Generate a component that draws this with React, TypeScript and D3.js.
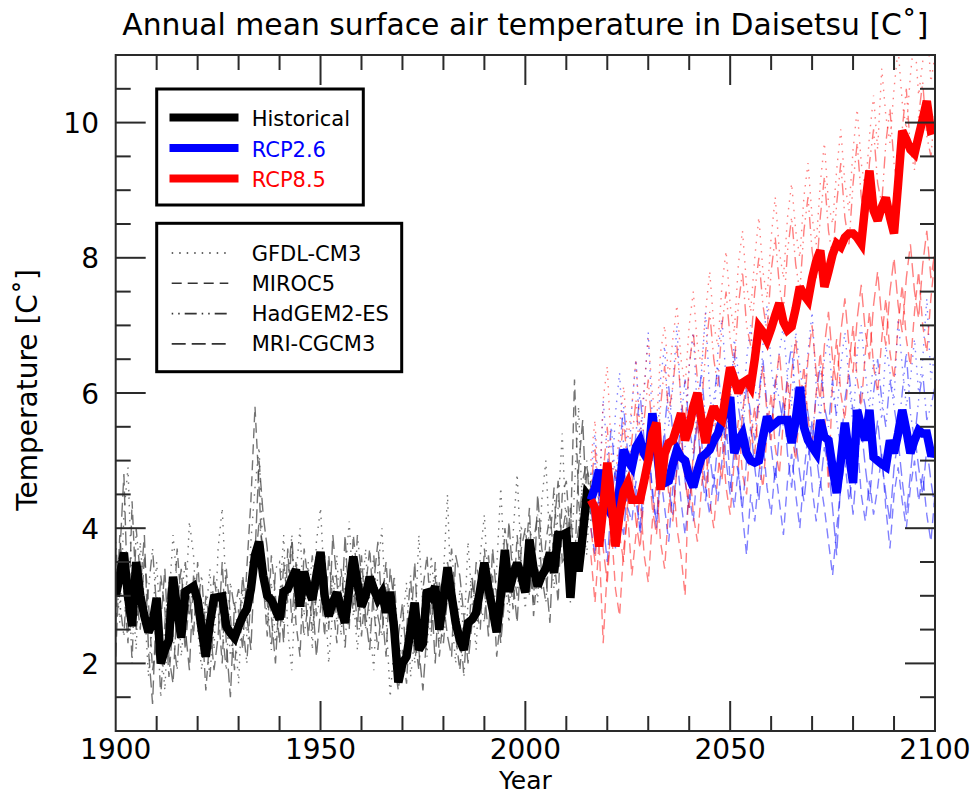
import React from 'react';
import * as d3 from 'd3';

// years
const histYears = d3.range(1900, 2017);
const rcpYears = d3.range(2016, 2101);

// thick lines (ensemble / observed)
const histMean = [
  2.99, 3.3, 3.64, 3.0, 2.55, 3.5, 3.0, 2.7, 2.46, 2.6,
  2.97, 2.0, 2.2, 2.35, 3.28, 2.8, 2.38, 3.06, 3.1, 3.14,
  2.94, 2.5, 2.1, 2.6, 2.97, 2.98, 2.99, 2.55, 2.45, 2.38,
  2.55, 2.7, 2.8, 3.1, 3.6, 3.8, 3.3, 3.0, 2.94, 2.8,
  2.65, 3.06, 3.1, 3.25, 3.39, 2.84, 3.36, 3.1, 2.94, 3.3,
  3.65, 3.0, 2.7, 2.9, 3.05, 2.8, 2.6, 3.1, 3.58, 3.2,
  2.84, 3.0, 3.28, 3.1, 2.95, 3.05, 2.75, 3.06, 2.5, 1.72,
  2.0, 2.1, 2.5, 2.9, 2.2, 2.3, 3.09, 3.0, 3.14, 2.5,
  2.95, 3.42, 3.0, 2.6, 2.35, 2.2, 2.6, 2.65, 2.75, 3.1,
  3.49, 3.1, 2.8, 2.46, 3.0, 3.68, 3.06, 3.3, 3.49, 3.3,
  3.05, 3.83, 3.4, 3.14, 3.3, 3.4, 3.64, 3.34, 3.9, 3.9,
  3.93, 2.97, 3.79, 3.36, 3.9, 4.5, 4.42,
];
const rcp26Mean = [
  4.42, 4.6, 4.86, 4.5, 4.32, 4.2, 4.13, 4.6, 5.16, 5.0,
  4.91, 5.2, 5.3, 5.1, 5.0, 5.7, 5.2, 4.67, 4.67, 4.7,
  4.95, 5.16, 5.05, 5.0, 4.75, 4.61, 4.85, 5.05, 5.1, 5.16,
  5.3, 5.4, 5.6, 5.75, 5.94, 5.11, 5.3, 5.4, 5.11, 5.0,
  4.97, 5.0, 5.35, 5.65, 5.5, 5.55, 5.6, 5.6, 5.6, 5.26,
  5.6, 6.09, 5.5, 5.3, 5.2, 5.11, 5.6, 5.35, 5.3, 4.9,
  4.52, 5.0, 5.56, 5.1, 4.67, 5.75, 5.5, 5.3, 5.75, 5.05,
  5.0, 4.95, 4.91, 5.3, 5.11, 5.4, 5.75, 5.45, 5.11, 5.3,
  5.45, 5.4, 5.4, 5.11, 5.1,
];
const rcp85Mean = [
  4.42, 4.3, 3.73, 4.3, 4.97, 4.4, 3.73, 4.2, 4.55, 4.67,
  4.42, 4.42, 4.42, 4.7, 5.0, 5.4, 5.56, 4.57, 5.1, 5.26,
  5.3, 5.5, 5.7, 5.3, 5.5, 5.8, 6.0, 5.6, 5.26, 5.6,
  5.8, 5.65, 5.6, 6.0, 6.38, 6.2, 6.0, 6.15, 6.19, 6.09,
  6.5, 6.98, 6.9, 6.78, 6.95, 7.15, 7.33, 7.05, 6.93, 6.98,
  7.25, 7.57, 7.45, 7.37, 7.7, 7.95, 8.11, 7.57, 7.8, 8.05,
  8.21, 8.16, 8.3, 8.36, 8.36, 8.3, 8.21, 8.8, 9.29, 8.7,
  8.55, 8.75, 8.89, 8.6, 8.36, 9.1, 9.88, 9.75, 9.6, 9.54,
  9.8, 10.05, 10.32, 9.88, 9.9,
];

// individual models, historical
const gfdlHist = [
  3.4, 2.6, 4.2, 4.9, 3.1, 2.2, 3.8, 2.9, 1.8, 2.7,
  3.5, 2.4, 1.6, 2.9, 3.9, 3.2, 2.1, 2.8, 4.1, 3.6,
  2.5, 1.9, 2.7, 3.4, 2.2, 3.7, 4.3, 3.0, 2.1, 2.6,
  1.7, 3.1, 2.4, 3.8, 4.6, 5.2, 3.5, 2.6, 3.2, 2.3,
  2.9, 3.9, 2.5, 1.9, 3.3, 4.0, 2.7, 3.5, 2.2, 3.8,
  4.3, 3.1, 2.0, 2.8, 3.6, 2.4, 3.3, 4.1, 3.0, 2.2,
  2.9, 3.7, 2.6, 1.9, 3.4, 4.0, 2.7, 1.5, 2.3, 1.9,
  2.6, 3.2, 1.8, 2.4, 3.9, 2.8, 2.1, 3.6, 2.9, 2.3,
  3.3, 4.5, 2.7, 2.0, 3.1, 2.4, 3.8, 2.9, 2.2, 3.6,
  4.2, 3.0, 2.5, 3.4, 4.6, 3.3, 2.6, 3.9, 4.8, 3.5,
  2.8, 4.1, 3.6, 2.9, 4.4, 5.0, 3.7, 3.1, 4.3, 5.4,
  3.9, 3.2, 4.6, 5.8, 4.1, 3.6, 4.8,
];
const mirocHist = [
  2.6, 3.9, 3.1, 2.3, 4.4, 3.0, 2.5, 3.6, 2.9, 1.9,
  2.3, 3.3, 2.8, 1.8, 2.6, 3.7, 2.9, 2.2, 3.0, 2.4,
  3.5, 2.7, 1.6, 2.4, 3.3, 2.8, 2.0, 3.4, 2.7, 1.9,
  2.8, 2.2, 3.4, 4.4, 5.8, 4.6, 3.2, 2.4, 3.6, 3.0,
  2.3, 3.5, 2.9, 3.8, 2.6, 2.1, 3.7, 3.2, 2.5, 3.0,
  3.2, 2.4, 3.6, 2.9, 2.3, 3.4, 2.8, 2.5, 3.9, 3.3,
  2.4, 3.1, 3.7, 2.8, 2.2, 2.9, 3.5, 2.7, 2.0, 1.6,
  2.2, 1.7, 2.9, 2.4, 1.9, 3.1, 3.6, 2.6, 3.3, 2.1,
  2.7, 3.5, 3.1, 2.4, 1.9, 2.6, 2.3, 3.2, 2.8, 2.5,
  3.7, 2.9, 3.3, 2.1, 2.7, 4.0, 3.5, 2.8, 3.9, 3.1,
  3.5, 4.3, 2.7, 3.4, 3.1, 3.8, 4.2, 3.6, 2.9, 4.5,
  4.7, 3.8, 6.2, 4.4, 3.7, 4.9, 4.6,
];
const hadgemHist = [
  3.8, 2.9, 2.4, 3.5, 2.0, 4.0, 3.3, 2.6, 3.1, 3.7,
  2.8, 1.5, 2.6, 3.2, 2.4, 1.9, 3.0, 3.5, 2.7, 3.2,
  2.9, 3.3, 2.4, 1.8, 2.7, 3.1, 2.5, 1.9, 3.2, 2.8,
  3.1, 2.6, 2.0, 3.0, 3.4, 4.1, 3.7, 2.9, 2.2, 3.4,
  3.5, 2.6, 3.2, 3.9, 2.8, 3.1, 2.4, 2.9, 3.6, 2.7,
  3.0, 3.6, 2.6, 3.3, 2.6, 3.1, 2.2, 3.5, 2.7, 3.9,
  3.3, 2.5, 3.0, 3.6, 2.7, 2.4, 3.2, 2.6, 3.3, 2.2,
  1.9, 2.5, 3.3, 2.0, 2.6, 2.3, 2.8, 2.4, 3.5, 2.7,
  2.3, 3.0, 3.7, 2.9, 2.6, 1.8, 2.9, 3.3, 2.6, 2.9,
  2.6, 3.6, 2.9, 2.6, 3.2, 3.6, 2.9, 3.4, 3.0, 4.0,
  3.9, 3.0, 3.8, 4.2, 3.3, 2.9, 3.8, 4.6, 3.5, 3.9,
  4.3, 2.9, 3.6, 4.0, 4.7, 5.0, 4.1,
];
const mriHist = [
  2.1, 3.6, 4.8, 2.8, 3.3, 2.5, 3.1, 3.9, 2.2, 1.4,
  3.0, 2.6, 3.4, 2.1, 1.7, 2.9, 3.4, 2.5, 1.9, 3.3,
  2.7, 2.1, 3.0, 2.6, 1.9, 2.4, 3.5, 2.3, 1.5, 2.9,
  2.4, 3.3, 2.7, 2.2, 3.6, 5.0, 4.2, 3.7, 2.7, 2.0,
  3.1, 2.3, 3.7, 2.6, 3.5, 2.9, 3.3, 2.4, 3.0, 2.1,
  2.8, 3.4, 2.5, 3.9, 3.2, 2.6, 3.9, 2.8, 3.4, 2.5,
  3.6, 2.7, 2.2, 3.2, 3.8, 2.8, 2.1, 3.4, 2.9, 2.4,
  2.9, 2.0, 2.5, 3.5, 2.2, 1.6, 2.5, 3.1, 2.0, 3.2,
  2.9, 2.4, 2.1, 3.6, 3.3, 2.7, 2.0, 2.6, 3.5, 3.1,
  3.1, 2.4, 3.7, 3.0, 2.3, 3.0, 4.1, 3.2, 2.6, 3.7,
  4.0, 3.4, 2.9, 4.5, 3.7, 3.3, 2.6, 4.0, 4.7, 3.5,
  3.6, 4.3, 3.4, 4.9, 5.6, 4.2, 4.7,
];

// individual models, RCP2.6
const gfdl26 = [
  4.8, 5.4, 4.3, 5.9, 5.1, 4.6, 5.7, 6.3, 5.2, 4.7,
  5.8, 6.5, 5.3, 6.0, 6.9, 5.6, 5.0, 6.2, 6.7, 5.5,
  6.1, 7.0, 5.8, 5.2, 6.4, 6.9, 5.7, 6.3, 7.2, 6.0,
  5.5, 6.6, 7.1, 6.2, 5.8, 6.8, 6.3, 5.6, 6.5, 7.0,
  6.1, 5.7, 6.7, 7.3, 6.4, 5.9, 6.6, 7.0, 6.2, 5.8,
  6.9, 6.4, 5.9, 6.6, 7.2, 6.1, 5.6, 6.5, 6.8, 6.0,
  5.7, 6.4, 6.9, 6.2, 5.5, 6.6, 7.0, 6.3, 5.8, 6.5,
  6.1, 5.6, 6.7, 6.3, 5.9, 7.1, 6.4, 5.8, 6.2, 6.8,
  6.0, 6.5, 7.4, 6.2, 6.6,
];
const miroc26 = [
  4.0, 3.6, 4.5, 3.9, 4.8, 4.2, 3.7, 4.4, 5.0, 4.3,
  4.1, 4.7, 3.9, 4.5, 5.2, 4.6, 4.0, 4.8, 4.3, 3.8,
  4.6, 5.1, 4.4, 3.9, 4.5, 4.1, 4.9, 5.3, 4.6, 4.2,
  4.8, 4.4, 5.0, 5.6, 4.7, 4.3, 4.9, 4.2, 3.6, 4.5,
  4.1, 4.8, 5.3, 4.6, 4.2, 4.9, 4.4, 3.9, 4.7, 5.1,
  4.5, 4.0, 4.8, 5.4, 4.6, 4.1, 4.7, 4.3, 3.8, 3.3,
  4.0, 4.6, 5.0, 4.4, 4.8, 5.3, 4.5, 4.1, 4.7, 4.2,
  4.6, 5.1, 4.3, 3.7, 4.5, 4.9, 4.4, 4.0, 4.6, 5.0,
  4.4, 4.8, 4.2, 3.8, 4.5,
];
const hadgem26 = [
  4.5, 5.0, 4.6, 4.2, 4.9, 5.5, 4.7, 5.2, 5.8, 5.1,
  4.8, 5.4, 6.0, 5.3, 4.9, 5.7, 5.2, 4.8, 5.5, 6.1,
  5.4, 5.0, 5.6, 6.2, 5.5, 5.1, 5.8, 6.3, 5.6, 5.2,
  5.9, 6.4, 5.7, 5.3, 6.0, 6.6, 5.8, 5.4, 6.1, 5.7,
  5.3, 6.0, 6.5, 5.8, 5.4, 6.2, 5.9, 5.5, 6.3, 6.7,
  5.9, 5.6, 6.1, 5.7, 5.3, 6.0, 6.4, 5.8, 5.5, 6.2,
  5.6, 5.2, 5.9, 6.3, 5.7, 5.4, 6.1, 5.8, 5.3, 6.0,
  6.5, 5.9, 5.5, 6.2, 5.8, 5.4, 6.0, 6.6, 5.7, 5.3,
  5.9, 6.3, 5.6, 5.8, 6.1,
];
const mri26 = [
  4.3, 3.8, 4.6, 4.1, 3.5, 4.4, 4.9, 4.2, 3.9, 4.7,
  5.1, 4.4, 4.0, 4.8, 5.3, 4.5, 4.1, 4.9, 5.4, 4.6,
  4.2, 4.9, 5.5, 4.7, 4.3, 5.0, 5.6, 4.8, 4.4, 5.1,
  4.6, 5.3, 5.8, 5.0, 4.5, 5.2, 4.8, 4.3, 5.0, 5.5,
  4.9, 4.4, 5.1, 5.7, 5.2, 4.7, 5.4, 5.9, 5.1, 4.6,
  5.3, 4.8, 4.4, 5.0, 5.6, 5.1, 4.6, 5.2, 4.9, 4.3,
  3.6, 4.7, 5.2, 4.8, 4.2, 5.0, 5.5, 4.9, 4.4, 5.1,
  5.6, 5.0, 4.5, 4.1, 4.9, 5.3, 4.7, 4.2, 4.8, 5.4,
  4.9, 4.5, 5.2, 4.7, 4.3,
];

// individual models, RCP8.5
const gfdl85 = [
  5.0, 5.6, 4.4, 5.9, 6.4, 5.1, 4.7, 5.5, 6.1, 5.3,
  5.8, 6.5, 5.4, 6.1, 6.8, 6.0, 5.5, 6.6, 7.0, 6.2,
  6.8, 7.3, 6.5, 6.1, 7.0, 7.5, 6.7, 6.4, 7.2, 7.8,
  7.0, 6.7, 7.6, 8.1, 7.3, 6.9, 7.9, 8.4, 7.6, 7.2,
  8.0, 8.6, 7.8, 7.4, 8.3, 8.9, 8.1, 7.7, 8.6, 9.1,
  8.4, 8.0, 8.9, 9.4, 8.6, 8.2, 9.1, 9.7, 8.8, 8.5,
  9.3, 9.9, 9.1, 8.7, 9.6, 10.2, 9.4, 9.0, 9.8, 10.4,
  9.6, 10.8, 10.1, 9.7, 10.5, 11.1, 10.3, 9.9, 10.7, 11.3,
  10.4, 10.9, 11.5, 10.6, 11.0,
];
const miroc85 = [
  3.6, 2.9, 3.8, 2.3, 3.4, 4.0, 3.1, 2.7, 3.7, 4.2,
  3.3, 3.9, 4.5, 3.6, 3.2, 4.1, 4.7, 3.8, 3.4, 4.3,
  4.9, 4.0, 3.6, 3.0, 5.0, 4.2, 3.8, 4.6, 5.2, 4.4,
  4.0, 4.8, 5.4, 4.6, 4.2, 5.0, 5.6, 4.8, 4.5, 5.3,
  5.8, 5.0, 4.6, 5.4, 6.0, 5.2, 4.8, 5.6, 6.2, 5.4,
  5.0, 5.8, 6.4, 5.6, 5.2, 6.0, 6.6, 5.8, 4.6, 6.2,
  6.8, 6.0, 5.6, 6.4, 7.0, 6.2, 5.8, 6.6, 7.2, 6.4,
  6.0, 6.8, 7.4, 6.6, 6.2, 7.0, 7.6, 6.8, 6.4, 7.2,
  7.8, 7.0, 6.6, 7.4, 8.0,
];
const hadgem85 = [
  4.6, 5.2, 4.2, 4.8, 5.5, 4.5, 4.1, 5.0, 5.6, 4.9,
  5.3, 5.9, 5.0, 5.6, 6.2, 5.4, 5.0, 5.8, 6.4, 5.7,
  6.1, 6.7, 5.9, 5.5, 6.4, 6.9, 6.2, 5.8, 6.6, 7.2,
  6.5, 6.1, 7.0, 7.5, 6.8, 6.4, 7.3, 7.8, 7.0, 6.7,
  7.5, 8.0, 7.3, 6.9, 7.8, 8.3, 7.6, 7.2, 8.1, 8.6,
  7.9, 7.5, 8.4, 8.9, 8.1, 7.7, 8.6, 9.2, 8.4, 8.0,
  8.8, 9.4, 8.6, 8.2, 9.1, 9.7, 8.9, 8.5, 9.4, 9.9,
  9.1, 8.8, 9.7, 10.2, 9.4, 9.0, 9.9, 10.5, 9.6, 9.3,
  10.1, 10.6, 9.8, 9.5, 10.2,
];
const mri85 = [
  4.0, 3.5, 4.3, 3.7, 3.2, 4.1, 4.6, 3.9, 3.5, 4.4,
  4.8, 4.1, 3.7, 4.5, 5.0, 4.3, 3.9, 4.7, 5.2, 4.5,
  4.1, 4.9, 5.4, 4.7, 4.3, 5.1, 5.6, 4.9, 4.6, 5.3,
  5.8, 5.1, 4.7, 5.5, 6.0, 5.3, 4.9, 5.7, 6.2, 5.5,
  5.1, 5.9, 6.4, 5.7, 5.3, 6.1, 6.6, 5.9, 5.5, 6.3,
  6.8, 6.1, 5.7, 6.5, 7.0, 6.3, 5.9, 6.7, 7.2, 6.5,
  6.1, 6.9, 7.4, 6.7, 6.3, 7.1, 7.6, 6.9, 6.5, 7.3,
  7.8, 7.1, 6.7, 7.5, 8.0, 7.3, 6.9, 7.7, 8.2, 7.5,
  7.1, 7.9, 8.4, 7.7, 8.1,
];

const modelNames = ['GFDL-CM3', 'MIROC5', 'HadGEM2-ES', 'MRI-CGCM3'];
const modelDash = ['1.5,6', '10,6', '1.5,5,1.5,5,12,5', '14,6'];
const histModels = [gfdlHist, mirocHist, hadgemHist, mriHist];
const rcp26Models = [gfdl26, miroc26, hadgem26, mri26];
const rcp85Models = [gfdl85, miroc85, hadgem85, mri85];

const scenarioNames = ['Historical', 'RCP2.6', 'RCP8.5'];
const scenarioColors = ['#000000', '#0000ff', '#ff0000'];

const xTickLabels = [1900, 1950, 2000, 2050, 2100];
const yTickLabels = [2, 4, 6, 8, 10];

const W = 977;
const H = 796;
const FONT = '"DejaVu Sans", Verdana, sans-serif';

const App = () => {
  const left = 115.7, right = 935, top = 55, bottom = 731;
  const x = d3.scaleLinear().domain([1900, 2100]).range([left, right]);
  const y = d3.scaleLinear().domain([1, 11]).range([bottom, top]);

  const pathFor = (years: number[], vals: number[]) =>
    d3.line<number>().x((_, i) => x(years[i])).y(d => y(d))(vals) || '';

  const xMinor = d3.range(1910, 2100, 10);
  const yMinor = d3.range(1.5, 11, 0.5);

  return (
    <svg width={W} height={H} style={{ position: 'absolute', left: 0, top: 0, background: '#fff' }}
      fontFamily={FONT}>
      <defs>
        <clipPath id="plotClip">
          <rect x={left} y={top} width={right - left} height={bottom - top} />
        </clipPath>
      </defs>

      {/* thin model lines */}
      <g clipPath="url(#plotClip)" fill="none" strokeWidth={1.4}>
        {histModels.map((m, i) => (
          <path key={'h' + i} d={pathFor(histYears, m)} stroke="#444" strokeOpacity={0.75}
            strokeDasharray={modelDash[i]} />
        ))}
        {rcp26Models.map((m, i) => (
          <path key={'b' + i} d={pathFor(rcpYears, m)} stroke="#0000ff" strokeOpacity={0.5}
            strokeDasharray={modelDash[i]} />
        ))}
        {rcp85Models.map((m, i) => (
          <path key={'r' + i} d={pathFor(rcpYears, m)} stroke="#ff0000" strokeOpacity={0.5}
            strokeDasharray={modelDash[i]} />
        ))}
      </g>

      {/* thick mean lines */}
      <g clipPath="url(#plotClip)" fill="none" strokeWidth={8.5} strokeLinejoin="miter" strokeMiterlimit={3}>
        <path d={pathFor(histYears, histMean)} stroke={scenarioColors[0]} />
        <path d={pathFor(rcpYears, rcp26Mean)} stroke={scenarioColors[1]} />
        <path d={pathFor(rcpYears, rcp85Mean)} stroke={scenarioColors[2]} />
      </g>

      {/* frame and ticks */}
      <g stroke="#2a2a2a" strokeWidth={2}>
        {xMinor.map(t => {
          const len = t % 50 === 0 ? 30 : 15;
          return (
            <g key={'xt' + t}>
              <line x1={x(t)} x2={x(t)} y1={bottom} y2={bottom - len} />
              <line x1={x(t)} x2={x(t)} y1={top} y2={top + len} />
            </g>
          );
        })}
        {yMinor.map(t => {
          const len = t % 2 === 0 ? 30 : 15;
          return (
            <g key={'yt' + t}>
              <line x1={left} x2={left + len} y1={y(t)} y2={y(t)} />
              <line x1={right} x2={right - len} y1={y(t)} y2={y(t)} />
            </g>
          );
        })}
        <rect x={left} y={top} width={right - left} height={bottom - top} fill="none" />
      </g>

      {/* tick labels */}
      <g fontSize={28} fill="#000">
        {xTickLabels.map(t => (
          <text key={'xl' + t} x={x(t)} y={759} textAnchor="middle">{t}</text>
        ))}
        {yTickLabels.map(t => (
          <text key={'yl' + t} x={99} y={y(t) + 10.5} textAnchor="end">{t}</text>
        ))}
      </g>

      {/* titles */}
      <text x={(left + right) / 2} y={34.5} textAnchor="middle" fontSize={29.8}>
        Annual mean surface air temperature in Daisetsu [C˚]
      </text>
      <text x={(left + right) / 2} y={789} textAnchor="middle" fontSize={25}>Year</text>
      <text transform="translate(37,390) rotate(-90)" textAnchor="middle" fontSize={28}>
        Temperature [C˚]
      </text>

      {/* legend: scenarios */}
      <g>
        <rect x={156.7} y={89} width={206.6} height={116} fill="#fff" stroke="#000" strokeWidth={3} />
        {scenarioNames.map((n, i) => (
          <g key={n}>
            <line x1={169.5} x2={238.5} y1={117.5 + i * 30.5} y2={117.5 + i * 30.5}
              stroke={scenarioColors[i]} strokeWidth={8} />
            <text x={251.7} y={126 + i * 30.5} fontSize={21} fill={scenarioColors[i]}>{n}</text>
          </g>
        ))}
      </g>

      {/* legend: models */}
      <g>
        <rect x={156.7} y={223.3} width={245} height={148.4} fill="#fff" stroke="#000" strokeWidth={3} />
        {modelNames.map((n, i) => (
          <g key={n}>
            <line x1={171.7} x2={228.3} y1={253 + i * 30.3} y2={253 + i * 30.3}
              stroke="#333" strokeWidth={1.6} strokeDasharray={modelDash[i]} />
            <text x={251.7} y={260.5 + i * 30.3} fontSize={21} fill="#000">{n}</text>
          </g>
        ))}
      </g>
    </svg>
  );
};

export default App;
